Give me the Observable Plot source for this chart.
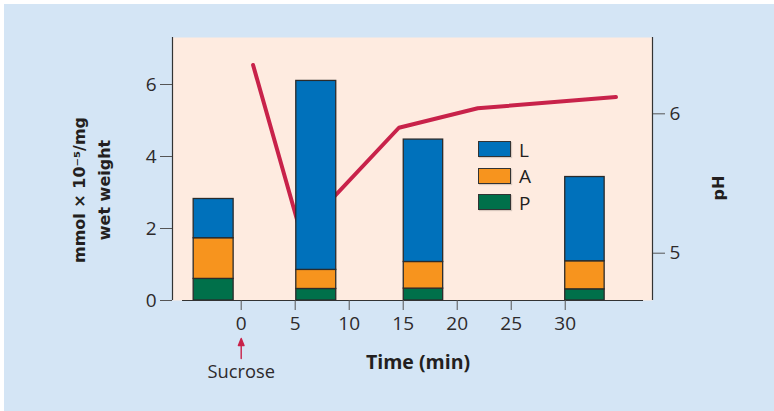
<!DOCTYPE html>
<html><head><meta charset="utf-8">
<script src="https://cdn.jsdelivr.net/npm/d3@7"></script>
<script src="https://cdn.jsdelivr.net/npm/@observablehq/plot@0.6"></script>
<style>
html,body{margin:0;padding:0;background:#fff;}
#wrap{position:relative;width:774px;height:411px;overflow:hidden;background:#fff;}
#panel{position:absolute;left:4px;top:4px;right:0;bottom:0;background:#d4e5f5;}
#chart{position:absolute;left:0;top:0;}
.lbl{position:absolute;color:#231f20;white-space:nowrap;transform:translate(-50%,-50%);}
.rot{transform:translate(-50%,-50%) rotate(-90deg);}
.sw{position:absolute;width:31px;height:14px;border:1.5px solid #333;box-shadow:1px 1px 1px rgba(0,0,0,0.15);}
.lg{position:absolute;font-family:"Open Sans",sans-serif;font-size:19px;color:#231f20;line-height:17px;}
</style></head><body>
<div id="wrap">
  <div id="panel"></div>
  <div id="chart"></div>
  <div class="lbl rot" style="left:92px;top:190px;font-family:'DejaVu Sans',sans-serif;font-weight:bold;font-size:16px;line-height:25px;text-align:center;">mmol × 10⁻⁵/mg<br>wet weight</div>
  <div class="lbl rot" style="left:718px;top:188px;font-family:'DejaVu Sans',sans-serif;font-weight:bold;font-size:16px;">pH</div>
  <div class="lbl" style="left:418px;top:361px;font-family:'Open Sans',sans-serif;font-weight:bold;font-size:19.5px;">Time (min)</div>
  <div id="legend"></div>
</div>
<script>
// ---- data ----
const components = ["L", "A", "P"];            // stacking: P bottom, A middle, L top
const componentColors = ["#0071bb", "#f7941e", "#00704a"];
const sampleStart = [-4.4, 5.1, 15.05, 30.0];   // time (min)
const sampleEnd   = [-0.7, 8.8, 18.7, 33.65];
const valuesP = [0.60, 0.32, 0.33, 0.31];
const valuesA = [1.13, 0.53, 0.74, 0.78];
const valuesL = [1.09, 5.25, 3.40, 2.34];
const phTime   = [1.1, 5.5, 14.6, 21.9, 34.7];
const phValues = [6.35, 5.15, 5.90, 6.04, 6.12];
const xTicks = [0, 5, 10, 15, 20, 25, 30];
const yTicks = [0, 2, 4, 6];
const phTicks = [5, 6];
const sucroseTime = 0;
const xDomain = [-6.36, 38.08];
const xAxisExtent = [-5.43, 37.25];
const yDomain = [0, 7.306];

const crimson = "#c8224a";
const peach = "#feebe0";

// pH mapped onto the left-axis units
const ph2y = d3.scaleLinear().domain([5, 6]).range([1.314, 5.186]);

// stacked bar rows
const barRows = [];
sampleStart.forEach((s, i) => {
  let base = 0;
  [["P", valuesP[i]], ["A", valuesA[i]], ["L", valuesL[i]]].forEach(([c, v]) => {
    barRows.push({t1: s, t2: sampleEnd[i], y1: base, y2: base + v, comp: c});
    base += v;
  });
});
const phRows = phTime.map((t, i) => ({t, ph: phValues[i]}));

const arrowShape = {
  draw(ctx, l) {
    ctx.moveTo(0, 0); ctx.lineTo(0, -l + 5);
    ctx.moveTo(-2.8, -l + 7); ctx.lineTo(0, -l); ctx.lineTo(2.8, -l + 7); ctx.closePath();
  }
};

const chart = Plot.plot({
  width: 774, height: 411,
  marginLeft: 172, marginRight: 122, marginTop: 37, marginBottom: 111,
  style: {fontFamily: "Open Sans, sans-serif", fontSize: "19px", background: "transparent", overflow: "visible", color: "#2d2a2b"},
  x: {domain: xDomain, axis: null},
  y: {domain: yDomain, axis: null},
  color: {domain: components, range: componentColors},
  marks: [
    Plot.frame({fill: peach, stroke: "none"}),
    Plot.line(phRows, {x: "t", y: d => ph2y(d.ph), stroke: crimson, strokeWidth: 4, strokeLinejoin: "miter"}),
    Plot.rect(barRows, {x1: "t1", x2: "t2", y1: "y1", y2: "y2", fill: "comp", stroke: "#2b2b2b", strokeWidth: 1.3}),
    Plot.ruleX(xDomain, {stroke: "#333", strokeWidth: 1.2}),
    Plot.ruleY([0], {x1: xAxisExtent[0], x2: xAxisExtent[1], stroke: "#333", strokeWidth: 1.2}),
    Plot.axisY(yTicks, {anchor: "left", tickSize: 12, tickPadding: 4, stroke: "#555", fontSize: 19, label: null}),
    Plot.axisY(phTicks.map(p => ph2y(p)), {anchor: "right", tickSize: 12, tickPadding: 5, stroke: "#555", fontSize: 19, label: null,
      tickFormat: d => String(Math.round(ph2y.invert(d)))}),
    Plot.axisX(xTicks, {anchor: "bottom", tickSize: 10, tickPadding: 6, stroke: "#555", fontSize: 19, label: null}),
    Plot.vector([sucroseTime], {x: d => d, frameAnchor: "bottom", anchor: "start", length: 20, dy: 58,
      shape: arrowShape, stroke: crimson, fill: crimson, strokeWidth: 1.4}),
    Plot.text([sucroseTime], {x: d => d, text: () => "Sucrose", frameAnchor: "bottom", dy: 72, fontSize: 18.3, fill: "#2d2a2b", lineAnchor: "middle"})
  ]
});
document.getElementById("chart").appendChild(chart);
// enforce font sizes on the SVG texts
chart.querySelectorAll("text").forEach(t => {
  t.style.fontFamily = "'Open Sans', sans-serif";
  t.style.fontSize = t.textContent === "Sucrose" ? "18.3px" : "19px";
});

// legend inside the plot area
const legend = document.getElementById("legend");
const legendTop = [141, 167.5, 194];
components.forEach((c, i) => {
  const sw = document.createElement("div");
  sw.className = "sw";
  sw.style.left = "478px"; sw.style.top = legendTop[i] + "px";
  sw.style.background = componentColors[i];
  legend.appendChild(sw);
  const t = document.createElement("div");
  t.className = "lg";
  t.style.left = "519px"; t.style.top = (legendTop[i] + 0.5) + "px";
  t.textContent = c;
  legend.appendChild(t);
});
</script>
</body></html>
